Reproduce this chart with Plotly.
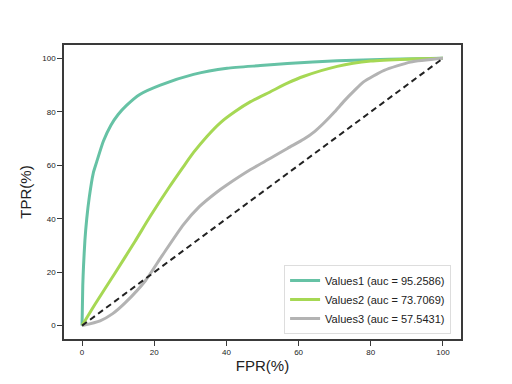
import plotly.graph_objects as go

fpr1 = [0, 0.2, 0.4, 0.8, 1.3, 2.0, 3.1, 4.0, 5.9, 8.0, 10.0, 12.4, 16.0, 21.7, 30.9, 40.2, 49.4, 56.9, 70.7, 85.0, 100]
tpr1 = [0, 15.0, 22.0, 32.0, 40.0, 48.0, 57.0, 61.0, 69.0, 75.0, 79.0, 82.5, 86.5, 90.0, 94.0, 96.3, 97.3, 98.1, 99.1, 99.7, 100]

fpr2 = [0, 3.6, 9.2, 14.7, 18.9, 24.0, 28.1, 30.9, 34.6, 38.3, 42.5, 46.7, 52.2, 56.9, 61.5, 70.7, 80.0, 90.0, 100]
tpr2 = [0, 8.0, 19.8, 31.6, 40.9, 51.5, 59.5, 64.8, 70.8, 75.9, 80.2, 83.8, 87.5, 90.7, 93.3, 97.0, 99.0, 99.7, 100]

fpr3 = [0, 5.0, 8.5, 12.0, 17.5, 22.1, 28.1, 32.5, 37.4, 40.2, 46.7, 52.2, 57.0, 61.5, 64.5, 67.0, 70.0, 72.6, 75.5, 78.0, 83.7, 91.0, 100]
tpr3 = [0, 1.8, 4.5, 8.6, 16.7, 26.0, 37.8, 44.5, 50.0, 52.7, 58.4, 62.6, 66.4, 69.8, 72.7, 75.8, 80.0, 84.0, 88.0, 91.2, 95.5, 98.6, 100]

names = ["Values1 (auc = 95.2586)", "Values2 (auc = 73.7069)", "Values3 (auc = 57.5431)"]
colors = ["#66c2a5", "#a6d854", "#b3b3b3"]
ticks = [0, 20, 40, 60, 80, 100]

fig = go.Figure()
for fx, ty, nm, c in zip([fpr1, fpr2, fpr3], [tpr1, tpr2, tpr3], names, colors):
    fig.add_trace(go.Scatter(x=fx, y=ty, mode="lines", name=nm,
                             line=dict(color=c, width=3, shape="spline", smoothing=0.6)))
fig.add_trace(go.Scatter(x=[0, 100], y=[0, 100], mode="lines", showlegend=False,
                         line=dict(color="#222222", width=2, dash="6px,4px")))

axis_common = dict(range=[-5, 105], tickvals=ticks, showgrid=False, zeroline=False,
                   showline=True, linecolor="#3a3a3a", linewidth=1.5, mirror=True,
                   ticks="outside", ticklen=5, tickwidth=1.2, tickcolor="#3a3a3a",
                   tickfont=dict(size=8, color="#222222", family="Liberation Sans"))

fig.update_layout(
    width=512, height=384,
    margin=dict(l=64, r=51, t=45, b=43),
    plot_bgcolor="white", paper_bgcolor="white",
    font=dict(family="Liberation Sans", color="#222222"),
    xaxis=dict(title=dict(text="FPR(%)", font=dict(size=15), standoff=4), **axis_common),
    yaxis=dict(title=dict(text="TPR(%)", font=dict(size=15), standoff=7), **axis_common),
    legend=dict(x=0.975, y=0.017, xanchor="right", yanchor="bottom",
                bgcolor="rgba(255,255,255,0.8)", bordercolor="#dddddd", borderwidth=1,
                font=dict(size=11, color="#222222"), itemwidth=30, tracegroupgap=0),
)

fig.write_html("out.html", config={"displayModeBar": False},
               post_script="document.body.style.margin='0';")
